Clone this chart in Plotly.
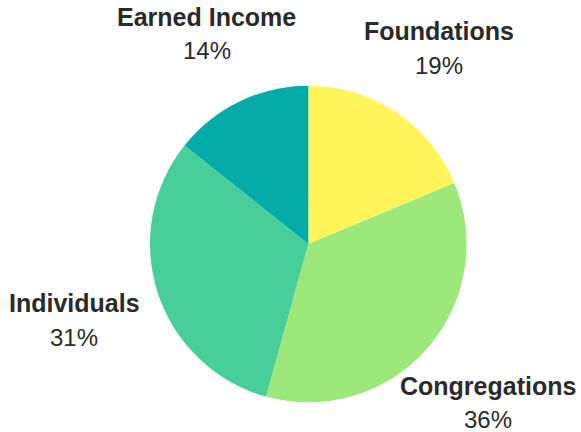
import math
import plotly.graph_objects as go

labels = ["Foundations", "Congregations", "Individuals", "Earned Income"]
values = [18.7, 35.6, 31.4, 14.3]
colors = ["#FFF55A", "#9DE87A", "#48CE98", "#05ABA8"]

W, H = 581, 432
cx, cy, r = 308.3, 244, 158.3          # pie centre / radius in pixels (from top-left)
rx, ry = 248, 230.5                    # label ellipse
line_off = 17

fig = go.Figure(go.Pie(
    labels=labels, values=values, sort=False, direction="clockwise", rotation=0,
    marker=dict(colors=colors, line=dict(width=0)),
    textinfo="none", hoverinfo="label+percent", showlegend=False,
    domain=dict(x=[(cx - r) / W, (cx + r) / W],
                y=[(H - cy - r) / H, (H - cy + r) / H]),
))

total = sum(values)
annotations = []
cum = 0
font_family = "Liberation Sans, Arial, sans-serif"
for lab, v in zip(labels, values):
    mid = (cum + v / 2) / total * 2 * math.pi
    cum += v
    s, c = math.sin(mid), math.cos(mid)
    rad = 1 / math.sqrt((s / rx) ** 2 + (c / ry) ** 2)
    px = cx + rad * s
    py = cy - rad * c
    pct = f"{round(v / total * 100)}%"
    annotations.append(dict(x=px / W, y=(H - (py - line_off)) / H, xref="paper", yref="paper",
                            text=f"<b>{lab}</b>", showarrow=False, xanchor="center", yanchor="middle",
                            font=dict(family=font_family, size=25, color="#2a2a2a")))
    annotations.append(dict(x=px / W, y=(H - (py + line_off)) / H, xref="paper", yref="paper",
                            text=pct, showarrow=False, xanchor="center", yanchor="middle",
                            font=dict(family=font_family, size=24, color="#2a2a2a")))

fig.update_layout(width=W, height=H, margin=dict(l=0, r=0, t=0, b=0),
                  paper_bgcolor="white", plot_bgcolor="white", annotations=annotations)
fig.write_html("out.html", config={"displayModeBar": False},
               post_script="document.body.style.margin='0';document.body.style.padding='0';")
